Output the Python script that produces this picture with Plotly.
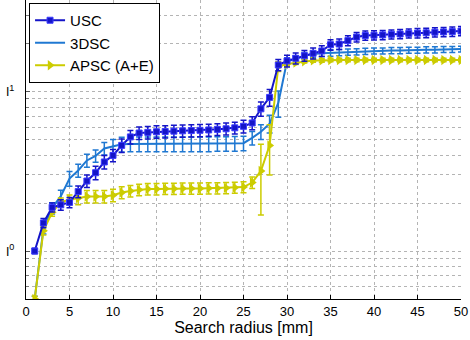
import plotly.graph_objects as go

x = list(range(1, 51))

usc = [1.0, 1.50, 1.88, 1.95, 2.02, 2.36, 2.75, 3.1, 3.62, 3.98,
       4.6, 5.2, 5.5, 5.55, 5.6, 5.62, 5.65, 5.68, 5.7, 5.72,
       5.75, 5.8, 5.85, 5.93, 6.06, 6.36, 7.8, 9.2, 14.7, 15.6,
       16.2, 16.8, 17.4, 18.0, 19.7, 19.9, 20.9, 22.0, 22.5, 22.6,
       22.7, 22.9, 23.0, 23.2, 23.3, 23.4, 23.6, 23.7, 23.8, 24.0]
usc_err = [0.04, 0.1, 0.12, 0.15, 0.15, 0.2, 0.25, 0.3, 0.35, 0.35,
           0.45, 0.5, 0.5, 0.5, 0.5, 0.5, 0.5, 0.5, 0.5, 0.5,
           0.5, 0.5, 0.5, 0.5, 0.55, 0.6, 0.8, 1.1, 1.2, 1.3,
           1.3, 1.3, 1.4, 1.4, 1.5, 1.5, 1.5, 1.5, 1.5, 1.5,
           1.5, 1.5, 1.5, 1.5, 1.6, 1.6, 1.6, 1.6, 1.6, 1.6]

dsc = [0.5, 1.38, 1.86, 2.21, 2.85, 3.2, 3.7, 3.95, 4.4, 4.55,
       4.68, 4.7, 4.7, 4.7, 4.7, 4.7, 4.7, 4.7, 4.7, 4.7,
       4.7, 4.72, 4.72, 4.73, 4.75, 5.13, 5.6, 6.3, 8.5, 15.5,
       16.0, 16.8, 17.2, 17.4, 17.5, 17.6, 17.7, 17.8, 17.9, 18.0,
       18.0, 18.1, 18.1, 18.2, 18.2, 18.3, 18.3, 18.4, 18.4, 18.5]
dsc_err = [0.02, 0.1, 0.15, 0.2, 0.3, 0.3, 0.35, 0.35, 0.4, 0.45,
           0.5, 0.5, 0.5, 0.5, 0.5, 0.5, 0.5, 0.5, 0.5, 0.5,
           0.5, 0.5, 0.5, 0.5, 0.5, 0.5, 0.6, 0.8, 1.6, 0.8,
           0.8, 0.8, 0.8, 0.8, 0.8, 0.8, 0.8, 0.8, 0.8, 0.8,
           0.8, 0.8, 0.8, 0.8, 0.8, 0.8, 0.8, 0.8, 0.8, 0.8]

apsc = [0.5, 1.34, 1.75, 2.03, 2.1, 2.15, 2.2, 2.2, 2.2, 2.24,
        2.33, 2.38, 2.42, 2.45, 2.45, 2.46, 2.46, 2.47, 2.47, 2.47,
        2.48, 2.48, 2.49, 2.5, 2.52, 2.69, 3.18, 4.6, 14.4, 14.9,
        15.2, 15.5, 15.7, 15.7, 15.8, 15.8, 15.8, 15.8, 15.8, 15.8,
        15.8, 15.8, 15.8, 15.8, 15.8, 15.8, 15.8, 15.8, 15.8, 15.8]
apsc_err = [0.02, 0.08, 0.1, 0.12, 0.15, 0.2, 0.2, 0.2, 0.2, 0.2,
            0.2, 0.2, 0.2, 0.2, 0.2, 0.2, 0.2, 0.2, 0.2, 0.2,
            0.2, 0.2, 0.2, 0.2, 0.2, 0.22, 1.5, 1.6, 1.0, 0.4,
            0.4, 0.4, 0.4, 0.4, 0.4, 0.4, 0.4, 0.4, 0.4, 0.4,
            0.4, 0.4, 0.4, 0.4, 0.4, 0.4, 0.4, 0.4, 0.4, 0.4]

x_ticks = list(range(0, 51, 5))
y_major = [1, 10]
y_major_labels = ["ǀ<sup>0</sup>", "ǀ<sup>1</sup>"]
y_minor = [0.6, 0.7, 0.8, 0.9, 2, 3, 4, 5, 6, 7, 8, 9, 20, 30]

C_USC = "#1414c8"
C_3DSC = "#1f78d2"
C_APSC = "#cccc00"

fig = go.Figure()
fig.add_trace(go.Scatter(
    x=x, y=dsc, name="3DSC", mode="lines",
    line=dict(color=C_3DSC, width=2),
    error_y=dict(type="data", array=dsc_err, color=C_3DSC, thickness=1.5, width=3),
    legendrank=2,
))
fig.add_trace(go.Scatter(
    x=x, y=apsc, name="APSC (A+E)", mode="lines+markers",
    line=dict(color=C_APSC, width=2),
    marker=dict(symbol="triangle-right", size=9, color=C_APSC),
    error_y=dict(type="data", array=apsc_err, color=C_APSC, thickness=1.5, width=3),
    legendrank=3,
))
fig.add_trace(go.Scatter(
    x=x, y=usc, name="USC", mode="lines+markers",
    line=dict(color=C_USC, width=2),
    marker=dict(symbol="square", size=6, color=C_USC,
                line=dict(color="#3c3cff", width=1)),
    error_y=dict(type="data", array=usc_err, color=C_USC, thickness=1.5, width=3),
    legendrank=1,
))

fig.update_layout(
    width=470, height=340,
    margin=dict(l=26, r=9, t=0, b=41),
    paper_bgcolor="white", plot_bgcolor="white",
    font=dict(family="Liberation Sans, Arial, sans-serif", size=13, color="black"),
    showlegend=True,
    legend=dict(x=0.007, y=0.99, xanchor="left", yanchor="top",
                bgcolor="white", bordercolor="black", borderwidth=1,
                font=dict(size=15), tracegroupgap=0, itemwidth=30),
    xaxis=dict(
        range=[0, 50], tickvals=x_ticks, ticktext=[str(v) for v in x_ticks],
        showgrid=True, gridcolor="#b4b4b4", griddash="dot", gridwidth=1,
        showline=True, linecolor="black", linewidth=1,
        ticks="inside", ticklen=4, tickcolor="black",
        zeroline=False, title=dict(text="Search radius [mm]", standoff=2),
    ),
    yaxis=dict(
        type="log", range=[-0.301, 1.575],
        tickvals=y_major, ticktext=y_major_labels,
        showgrid=True, gridcolor="#b4b4b4", griddash="dot", gridwidth=1,
        showline=True, linecolor="black", linewidth=1,
        ticks="inside", ticklen=4, tickcolor="#555555",
        zeroline=False, ticklabelstandoff=8,
        minor=dict(tickvals=y_minor, showgrid=True, gridcolor="#b4b4b4",
                   griddash="dot", gridwidth=1, ticks="inside", ticklen=3,
                   tickcolor="#777777"),
    ),
)

fig.write_html("out.html", config={"displayModeBar": False},
               post_script="document.body.style.margin='0';document.body.style.padding='0';")
